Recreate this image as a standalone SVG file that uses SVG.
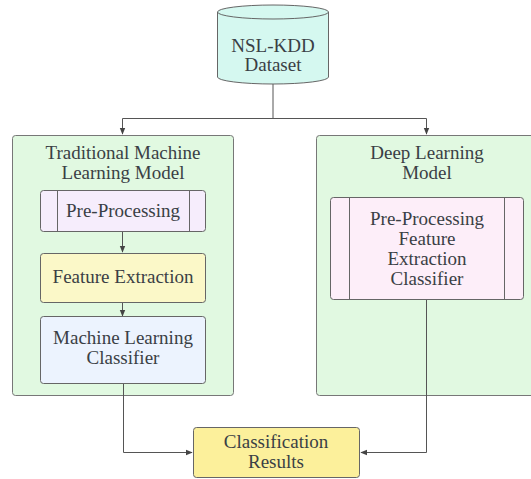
<svg xmlns="http://www.w3.org/2000/svg" width="531" height="479" viewBox="0 0 531 479">
  <style>
    .box { stroke: #666; stroke-width: 1; }
    .grp { fill: #e1f9e1; stroke: #777; stroke-width: 1; }
    text { font-family: "Liberation Serif", "Noto Serif", "DejaVu Serif", Tinos, "Times New Roman", Times, FreeSerif, serif; font-size: 19px; fill: #3a3f45; text-anchor: middle; }
    .edge { fill: none; stroke: #555; stroke-width: 1; }
  </style>
  <defs>
    <marker id="arrow" viewBox="0 0 10 10" refX="9" refY="5" markerWidth="7" markerHeight="7" orient="auto" markerUnits="userSpaceOnUse">
      <path d="M0,1 L10,5 L0,9 z" fill="#444"/>
    </marker>
  </defs>
  <rect width="531" height="479" fill="#ffffff"/>

  <!-- subgraph containers -->
  <g id="traditional-model">
    <rect class="grp" x="12.5" y="135.5" width="221" height="260" rx="3"/>
    <text x="123" y="159">Traditional Machine</text>
    <text x="123" y="179">Learning Model</text>
  </g>
  <g id="deep-model">
    <rect class="grp" x="316.5" y="135.5" width="225" height="260" rx="3"/>
    <text x="427" y="159">Deep Learning</text>
    <text x="427" y="179">Model</text>
  </g>

  <!-- connectors -->
  <g id="connectors">
    <path class="edge" d="M273,84 V118.5 H122.5 V134" marker-end="url(#arrow)"/>
    <path class="edge" d="M273,118.5 H426.5 V134" marker-end="url(#arrow)"/>
    <path class="edge" d="M122.5,196 V217" marker-end="url(#arrow)"/>
    <path class="edge" d="M122.5,232 V252" marker-end="url(#arrow)"/>
    <path class="edge" d="M122.5,303 V316" marker-end="url(#arrow)"/>
    <path class="edge" d="M123.5,384 V452.5 H192" marker-end="url(#arrow)"/>
    <path class="edge" d="M426.5,300 V452.5 H361" marker-end="url(#arrow)"/>
  </g>

  <!-- dataset -->
  <g id="dataset">
    <path class="box" fill="#d5f8f0" d="M217.5,12 A55.5,7 0 0 1 328.5,12 V77 A55.5,7 0 0 1 217.5,77 Z"/>
    <path class="box" fill="none" d="M217.5,12 A55.5,7 0 0 0 328.5,12"/>
    <text x="273" y="52">NSL-KDD</text>
    <text x="273" y="71">Dataset</text>
  </g>

  <!-- traditional pipeline -->
  <g id="pre-processing">
    <rect class="box" fill="#f6edfc" x="40.5" y="190.5" width="165" height="41" rx="3"/>
    <line class="box" x1="57.5" y1="190.5" x2="57.5" y2="231.5"/>
    <line class="box" x1="189.5" y1="190.5" x2="189.5" y2="231.5"/>
    <text x="123" y="217">Pre-Processing</text>
  </g>
  <g id="feature-extraction">
    <rect class="box" fill="#fbf8c8" x="40.5" y="253.5" width="165" height="49" rx="3"/>
    <text x="123" y="283">Feature Extraction</text>
  </g>
  <g id="ml-classifier">
    <rect class="box" fill="#ecf3fe" x="40.5" y="316.5" width="165" height="67" rx="3"/>
    <text x="123" y="344">Machine Learning</text>
    <text x="123" y="364">Classifier</text>
  </g>

  <!-- deep learning pipeline -->
  <g id="dl-pipeline">
    <rect class="box" fill="#fdeef9" x="330.5" y="197.5" width="193" height="102" rx="3"/>
    <line class="box" x1="349.5" y1="197.5" x2="349.5" y2="299.5"/>
    <line class="box" x1="504.5" y1="197.5" x2="504.5" y2="299.5"/>
    <text x="427" y="225">Pre-Processing</text>
    <text x="427" y="245">Feature</text>
    <text x="427" y="265">Extraction</text>
    <text x="427" y="285">Classifier</text>
  </g>

  <!-- results -->
  <g id="results">
    <rect class="box" fill="#fcf09b" x="193.5" y="427.5" width="166" height="50" rx="3"/>
    <text x="276" y="448">Classification</text>
    <text x="276" y="468">Results</text>
  </g>
</svg>
